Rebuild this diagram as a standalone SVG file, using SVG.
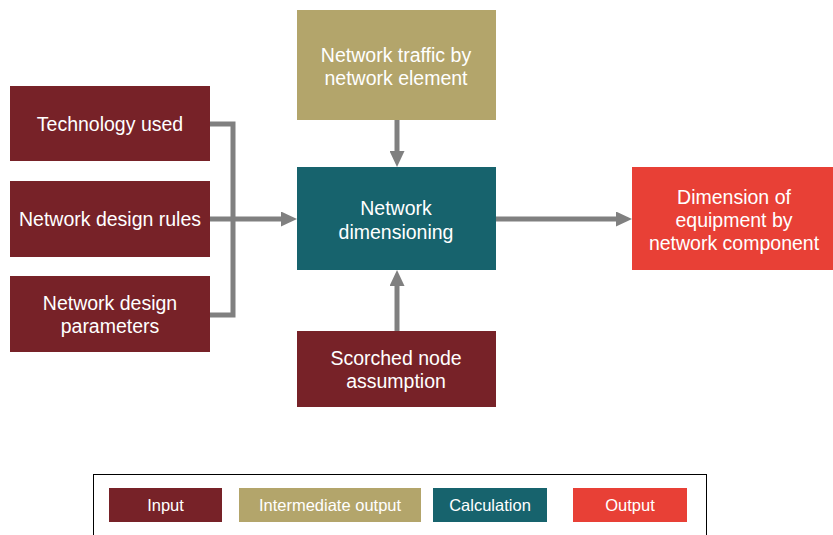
<svg xmlns="http://www.w3.org/2000/svg" width="833" height="535" viewBox="0 0 833 535">
<defs>
<style>
.t{font-family:"Liberation Sans",Arial,sans-serif;font-size:19.5px;fill:#fff;text-anchor:middle}
.lt{font-family:"Liberation Sans",Arial,sans-serif;font-size:16.5px;fill:#fff;text-anchor:middle}
.in{fill:#772228}
.im{fill:#B3A56B}
.ca{fill:#17636D}
.out{fill:#E84036}
.c{fill:none;stroke:#808080;stroke-width:5}
</style>
<marker id="ah" markerWidth="3.2" markerHeight="3" refX="1.2" refY="1.5" orient="auto" markerUnits="strokeWidth">
<path d="M0,0 L3.2,1.5 L0,3 Z" fill="#808080"/>
</marker>
</defs>
<rect width="833" height="535" fill="#fff"/>
<g id="connectors">
<polyline class="c" points="210,124 233,124 233,315 210,315"/>
<line class="c" x1="210" y1="219" x2="287" y2="219" marker-end="url(#ah)"/>
<line class="c" x1="397" y1="120" x2="397" y2="157" marker-end="url(#ah)"/>
<line class="c" x1="397" y1="331" x2="397" y2="280" marker-end="url(#ah)"/>
<line class="c" x1="496" y1="219" x2="622" y2="219" marker-end="url(#ah)"/>
</g>
<g id="technology">
<rect class="in" x="10" y="86" width="200" height="75"/>
<text class="t" x="110" y="131">Technology used</text>
</g>
<g id="rules">
<rect class="in" x="10" y="181" width="200" height="76"/>
<text class="t" x="110" y="226">Network design rules</text>
</g>
<g id="parameters">
<rect class="in" x="10" y="276" width="200" height="76"/>
<text class="t" x="110" y="310">Network design</text>
<text class="t" x="110" y="333">parameters</text>
</g>
<g id="traffic">
<rect class="im" x="297" y="10" width="199" height="110"/>
<text class="t" x="396" y="62">Network traffic by</text>
<text class="t" x="396" y="85">network element</text>
</g>
<g id="dimensioning">
<rect class="ca" x="297" y="167" width="199" height="103"/>
<text class="t" x="396" y="215">Network</text>
<text class="t" x="396" y="239">dimensioning</text>
</g>
<g id="scorched">
<rect class="in" x="297" y="331" width="199" height="76"/>
<text class="t" x="396" y="365">Scorched node</text>
<text class="t" x="396" y="388">assumption</text>
</g>
<g id="output">
<rect class="out" x="632" y="167" width="201" height="103"/>
<text class="t" x="734" y="204">Dimension of</text>
<text class="t" x="734" y="227">equipment by</text>
<text class="t" x="734" y="250">network component</text>
</g>
<g id="legend">
<rect x="93.5" y="474.5" width="613" height="70" fill="none" stroke="#000" stroke-width="1"/>
<rect class="in" x="109" y="488" width="113" height="34"/>
<text class="lt" x="165.5" y="511">Input</text>
<rect class="im" x="239" y="488" width="182" height="34"/>
<text class="lt" x="330" y="511">Intermediate output</text>
<rect class="ca" x="433" y="488" width="114" height="34"/>
<text class="lt" x="490" y="511">Calculation</text>
<rect class="out" x="573" y="488" width="114" height="34"/>
<text class="lt" x="630" y="511">Output</text>
</g>
</svg>
